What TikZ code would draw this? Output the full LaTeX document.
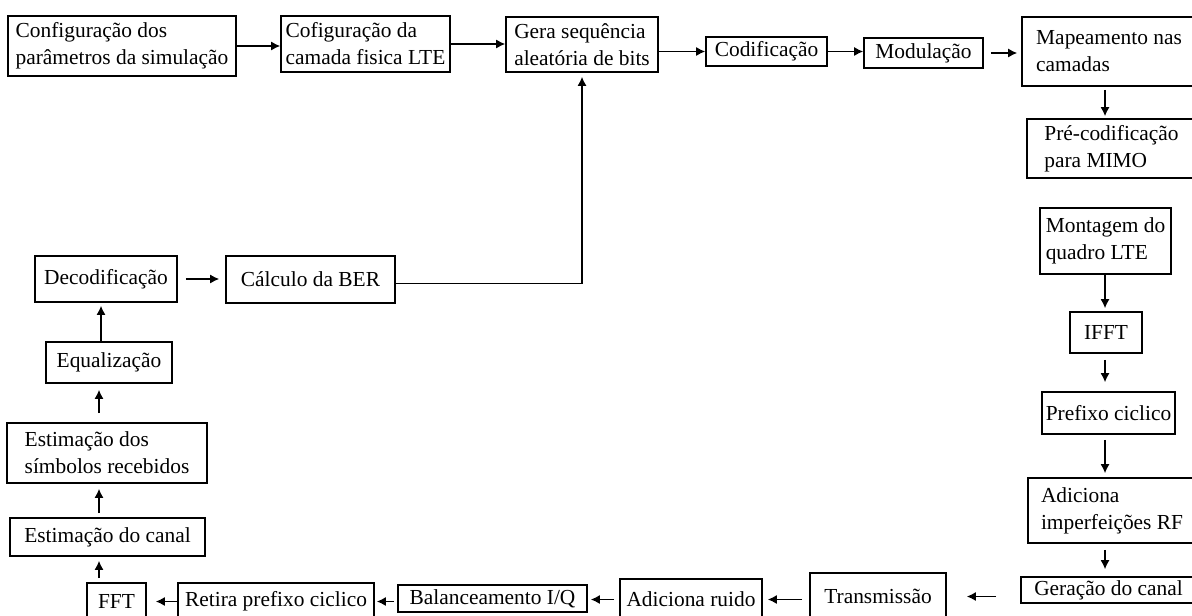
\documentclass[tikz,border=0pt]{standalone}
\usepackage{fontspec}
\setmainfont{Liberation Serif}
\usetikzlibrary{arrows.meta}

\begin{document}
\begin{tikzpicture} [x = 0.5pt, y = -0.5pt,
	font = \fontsize{10.7}{13.5}\selectfont,
	bloco/.style = {draw, line width = 0.8pt, align = left, inner sep = 1.5pt},
	seta/.style = {-{Latex[length = 4.5pt, width = 4.5pt]}, line width = 0.7pt}]
\useasboundingbox (0,0) rectangle (1192,615);

% eixos das colunas de setas:
\coordinate (eixoE) at (99,0);
\coordinate (eixoD) at (1105,0);

% linha de cima:
\node [bloco, minimum width = 114pt, minimum height = 30pt] (cfg) at (122,46)
	{Configuração dos\\parâmetros da simulação};
\node [bloco, minimum width = 84.5pt, minimum height = 28pt] (camada) at (365.5,44)
	{Cofiguração da\\camada fisica LTE};
\node [bloco, minimum width = 76pt, minimum height = 27.5pt] (bits) at (582,44.5)
	{Gera sequência\\aleatória de bits};
\node [bloco, minimum width = 60.5pt, minimum height = 14.5pt] (cod) at (766.5,51.5)
	{Codificação};
\node [bloco, minimum width = 59.5pt, minimum height = 15pt] (mod) at (923.5,53)
	{Modulação};
\node [bloco, minimum width = 87pt, minimum height = 34.5pt] (mapa) at (1109,51.5)
	{Mapeamento nas\\camadas};

% coluna da direita:
\node [bloco, minimum width = 84.5pt, minimum height = 29.5pt] (precod) at (1111.5,148.5)
	{Pré-codificação\\para MIMO};
\node [bloco, minimum width = 65.5pt, minimum height = 33pt] (quadro) at (1105.5,241)
	{Montagem do\\quadro LTE};
\node [bloco, minimum width = 36pt, minimum height = 20.5pt] (ifft) at (1106,332.5)
	{IFFT};
\node [bloco, minimum width = 66.5pt, minimum height = 21pt] (prefixo) at (1108.5,413)
	{Prefixo ciclico};
\node [bloco, minimum width = 84pt, minimum height = 32.5pt] (rf) at (1112,510.5)
	{Adiciona\\imperfeições RF};
\node [bloco, minimum width = 87.5pt, minimum height = 13pt] (canal) at (1108.5,590)
	{Geração do canal};

% linha de baixo:
\node [bloco, minimum width = 68pt, minimum height = 23.5pt] (trans) at (878,596.5)
	{Transmissão};
\node [bloco, minimum width = 71pt, minimum height = 20.5pt] (ruido) at (691,599.5)
	{Adiciona ruido};
\node [bloco, minimum width = 94.5pt, minimum height = 13.5pt] (iq) at (492.5,598.5)
	{Balanceamento I/Q};
\node [bloco, minimum width = 98pt, minimum height = 18.5pt] (retira) at (276,601.5)
	{Retira prefixo ciclico};
\node [bloco, minimum width = 29.5pt, minimum height = 18.5pt] (fft) at (116.5,601.5)
	{FFT};

% coluna da esquerda:
\node [bloco, minimum width = 97.5pt, minimum height = 19pt] (estcanal) at (107.5,537)
	{Estimação do canal};
\node [bloco, minimum width = 100pt, minimum height = 30pt] (estsimb) at (107,453)
	{Estimação dos\\símbolos recebidos};
\node [bloco, minimum width = 63pt, minimum height = 20.5pt] (equal) at (109,362.5)
	{Equalização};
\node [bloco, minimum width = 71pt, minimum height = 23pt] (decod) at (106,279)
	{Decodificação};
\node [bloco, minimum width = 84.5pt, minimum height = 23.5pt] (ber) at (310.5,279.5)
	{Cálculo da BER};

% setas de cima:
\draw [seta] (cfg.east) -- (cfg.east -| camada.west);
\draw [seta] (camada.east) -- (camada.east -| bits.west);
\draw [seta] (cod.west -| bits.east) -- (cod.west);
\draw [seta] (cod.east) -- (cod.east -| mod.west);
\draw [seta, shorten < = 3.5pt, shorten > = 2pt] (mod.east) -- (mod.east -| mapa.west);

% setas da direita:
\draw [seta, shorten < = 1.5pt, shorten > = 1pt] (mapa.south -| eixoD) -- (precod.north -| eixoD);
\draw [seta, shorten > = 1.5pt] (quadro.south -| eixoD) -- (ifft.north -| eixoD);
\draw [seta, shorten < = 3pt, shorten > = 4.5pt] (ifft.south -| eixoD) -- (prefixo.north -| eixoD);
\draw [seta, shorten < = 2.5pt, shorten > = 2pt] (prefixo.south -| eixoD) -- (rf.north -| eixoD);
\draw [seta, shorten < = 3pt, shorten > = 3.5pt] (rf.south -| eixoD) -- (canal.north -| eixoD);

% setas de baixo:
\draw [seta, shorten < = 12pt, shorten > = 10pt] (canal.west |- trans) -- (trans.east);
\draw [seta, shorten < = 3.5pt, shorten > = 2.5pt] (trans.west |- ruido) -- (ruido.east);
\draw [seta, shorten < = 2.5pt, shorten > = 1.5pt] (ruido.west) -- (ruido.west -| iq.east);
\draw [seta, shorten < = 1.5pt, shorten > = 1pt] (retira.east -| iq.west) -- (retira.east);
\draw [seta, shorten > = 4.5pt] (retira.west) -- (retira.west -| fft.east);

% setas da esquerda:
\draw [seta, shorten < = 2pt, shorten > = 2pt] (fft.north -| eixoE) -- (estcanal.south -| eixoE);
\draw [seta, shorten < = 2pt, shorten > = 2.5pt] (estcanal.north -| eixoE) -- (estsimb.south -| eixoE);
\draw [seta, shorten < = 4.5pt, shorten > = 3pt] (estsimb.north -| eixoE) -- (equal.south -| eixoE);
\draw [seta, shorten > = 1.5pt] ([xshift = 1pt] equal.north -| eixoE) -- ([xshift = 1pt] decod.south -| eixoE);
\draw [seta, shorten < = 4pt, shorten > = 3pt] (decod.east) -- (decod.east -| ber.west);

% volta para a geracao de bits:
\draw [seta, shorten > = 2pt] ([yshift = -2pt] ber.east) -| (bits.south);
\end{tikzpicture}
\end{document}
